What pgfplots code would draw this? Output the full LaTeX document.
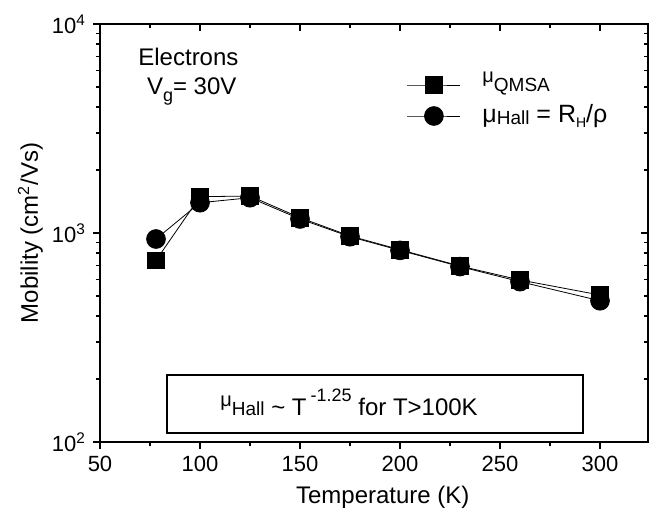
\documentclass[border=0pt]{standalone}
\usepackage{pgfplots}
\pgfplotsset{compat=1.18}
\usepackage{fontspec}
\setmainfont{Liberation Sans}
\usetikzlibrary{calc}

\newcommand{\mus}{\raisebox{4.5pt}{\fontsize{10}{10}\selectfont μ}}
\newcommand{\sm}[1]{{\fontsize{9.5}{9.5}\selectfont #1}}

\pgfplotsset{
  myframe/.style={
    width=274pt, height=209pt, scale only axis,
    xmin=50, xmax=324, ymin=100, ymax=10000,
    xtick={50,100,150,200,250,300}, minor xtick={75,125,175,225,275},
    ytick={100,1000,10000},
    minor ytick={200,300,400,500,600,700,800,900,2000,3000,4000,5000,6000,7000,8000,9000},
    axis line style={line width=0.9pt},
    major tick length=3.5pt, minor tick length=2.2pt,
    tick style={line width=0.8pt, black},
  }
}

\pgfplotstableread{
T   mu
78  740
100 1492
125 1503
150 1184
175 968
200 832
230 695
260 596
300 505
}\qmsa
\pgfplotstableread{
T   mu
78  936
100 1396
125 1475
150 1167
175 960
200 826
230 691
260 585
300 474
}\hall

\begin{document}
\begin{tikzpicture}
\begin{semilogyaxis}[myframe, name=ax,
  tick align=outside, xtick pos=left, ytick pos=left,
  /pgf/number format/assume math mode=true,
  tick label style={font=\fontsize{11}{13}\selectfont},
  yticklabels={10\textsuperscript{2},10\textsuperscript{3},10\textsuperscript{4}},
  xlabel={Temperature (K)},
  ylabel={Mobility (cm\textsuperscript{2}/Vs)},
  label style={font=\fontsize{12}{14}\selectfont},
  xlabel style={at={(axis description cs:0.516,-0.1316)}, anchor=center},
  ylabel style={at={(axis description cs:-0.127,0.5)}, anchor=center},
  legend style={draw=none, fill=none, inner sep=0pt, outer sep=0pt,
    at={(axis cs:203.5,4305)}, anchor=west,
    font=\fontsize{12.5}{14}\selectfont,
    nodes={inner sep=0pt, text height=9pt, text depth=3pt},
    row sep=3.5pt,
    /tikz/every odd column/.append style={column sep=0pt}},
  legend cell align=left,
  legend image code/.code={\path[draw=none, fill=none] (0pt,0pt) -- (37.5pt,0pt);
    \draw[mark repeat=2,mark phase=2] plot coordinates {(0pt,0pt) (13.25pt,0pt) (26.5pt,0pt)};},
]
\addplot[black, line width=0.4pt, mark=square*, mark size=4.2pt, mark options={solid, fill=black}] table[x=T, y=mu] {\qmsa};
\addlegendentry{\mus\sm{QMSA}}
\addplot[black, line width=0.4pt, mark=*, mark size=4.7pt, mark options={solid, fill=black}] table[x=T, y=mu] {\hall};
\addlegendentry{μ\raisebox{-1pt}{\sm{Hall}} = R\raisebox{-2.5pt}{\fontsize{7}{7}\selectfont H}/ρ}

\draw[line width=0.6pt] (axis cs:83.5,110.4) rectangle (axis cs:291.5,209.3);
\node[anchor=base west, inner sep=0pt, font=\fontsize{12}{14}\selectfont] at (axis cs:110,133.2)
  {\mus\sm{Hall} \textasciitilde{} T\,\raisebox{7pt}{\fontsize{9}{9}\selectfont -1.25} for T>100K};
\node[anchor=base west, inner sep=0pt, font=\fontsize{12}{14}\selectfont] at (axis cs:69,6296) {Electrons};
\node[anchor=base west, inner sep=0pt, font=\fontsize{12}{14}\selectfont] at (axis cs:73.3,4624) {V\raisebox{-3.5pt}{\fontsize{9}{9}\selectfont g}= 30V};
\end{semilogyaxis}
\begin{semilogyaxis}[myframe,
  tick align=inside, xtick pos=right, ytick pos=right,
  xticklabels={}, yticklabels={}]
\end{semilogyaxis}
\pgfresetboundingbox
\path[use as bounding box] ($(ax.south west)+(-50pt,-34.5pt)$) rectangle ($(ax.north east)+(2.5pt,12pt)$);
\end{tikzpicture}
\end{document}
